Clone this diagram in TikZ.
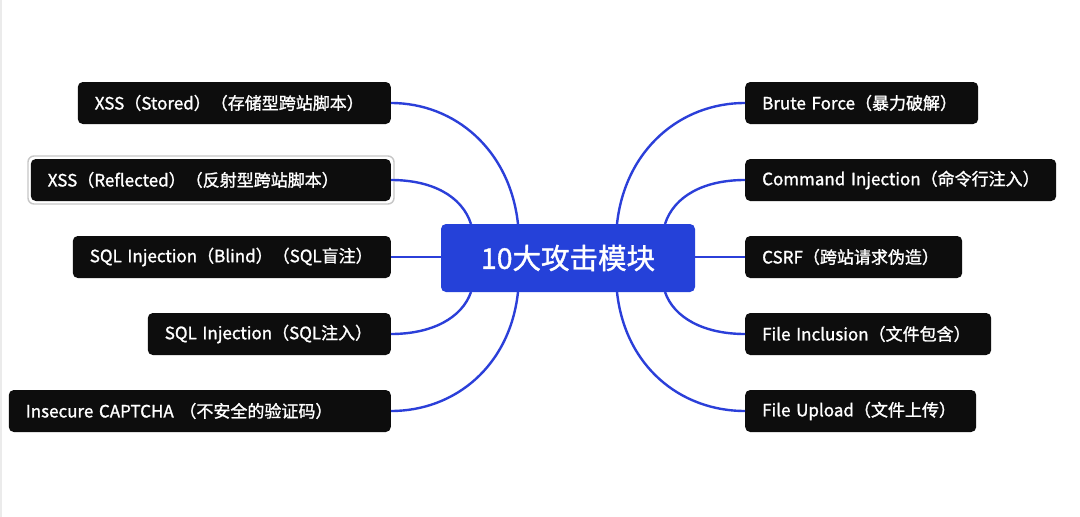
\documentclass[tikz,border=0pt]{standalone}
\usepackage{fontspec}
\setmainfont{Noto Sans CJK SC}[FakeBold=1.3]
\definecolor{leafc}{HTML}{0D0D0D}
\definecolor{hubc}{HTML}{2541D9}
\definecolor{linkc}{HTML}{2B3FD9}
\begin{document}
\begin{tikzpicture}[x=1pt,y=-1pt,
  leaf/.style={fill=leafc, text=white, rounded corners=5pt, minimum height=42pt, inner ysep=0pt, inner xsep=17pt, align=left, font=\fontsize{17}{20}\selectfont},
  lleaf/.style={leaf, anchor=east},
  rleaf/.style={leaf, anchor=west},
  hubbox/.style={fill=hubc, text=white, rounded corners=5pt, minimum width=254pt, minimum height=68pt, inner sep=0pt, font=\fontsize{28.5}{32}\selectfont},
  link/.style={draw=linkc, line width=2.4pt}]
\useasboundingbox (0,0) rectangle (1080,517);
\fill[white] (0,0) rectangle (1080,517);
\draw[black!8, line width=2pt] (1,0) -- (1,517);

\coordinate (hl1) at (518,224);
\coordinate (hl2) at (471,224);
\coordinate (hl4) at (471,292);
\coordinate (hl5) at (518,292);
\coordinate (hr1) at (617,224);
\coordinate (hr2) at (665,224);
\coordinate (hr4) at (665,292);
\coordinate (hr5) at (617,292);
\coordinate (hw) at (441,257);
\coordinate (he) at (695,257);

\node[lleaf, text width=279pt] (l1) at (391,103) {\mbox{XSS（Stored）（存储型跨站脚本）}};
\node[lleaf, text width=326pt] (l2) at (391,180) {\mbox{XSS（Reflected）（反射型跨站脚本）}};
\node[lleaf, text width=284pt] (l3) at (391,257) {\mbox{SQL Injection（Blind）（SQL盲注）}};
\node[lleaf, text width=209pt] (l4) at (391,334) {\mbox{SQL Injection（SQL注入）}};
\node[lleaf, text width=348pt] (l5) at (391,411) {\mbox{Insecure CAPTCHA （不安全的验证码）}};

\node[rleaf, text width=199pt] (r1) at (745,103) {\mbox{Brute Force（暴力破解）}};
\node[rleaf, text width=277pt] (r2) at (745,180) {\mbox{Command Injection（命令行注入）}};
\node[rleaf, text width=183pt] (r3) at (745,257) {\mbox{CSRF（跨站请求伪造）}};
\node[rleaf, text width=212pt] (r4) at (745,334) {\mbox{File Inclusion（文件包含）}};
\node[rleaf, text width=197pt] (r5) at (745,411) {\mbox{File Upload（文件上传）}};

\draw[black!22, line width=1.4pt, rounded corners=6pt] (28,156) rectangle (394,204);

\draw[link] (hl1) .. controls (510,150) and (455,103) .. (l1.east);
\draw[link] (hl2) .. controls (462,196) and (432,180) .. (l2.east);
\draw[link] (hw) -- (l3.east);
\draw[link] (hl4) .. controls (462,318) and (432,334) .. (l4.east);
\draw[link] (hl5) .. controls (510,366) and (455,411) .. (l5.east);
\draw[link] (hr1) .. controls (625,150) and (680,103) .. (r1.west);
\draw[link] (hr2) .. controls (674,196) and (704,180) .. (r2.west);
\draw[link] (he) -- (r3.west);
\draw[link] (hr4) .. controls (674,318) and (704,334) .. (r4.west);
\draw[link] (hr5) .. controls (625,366) and (680,411) .. (r5.west);

\node[hubbox] (hub) at (568,258) {10大攻击模块};
\end{tikzpicture}
\end{document}
